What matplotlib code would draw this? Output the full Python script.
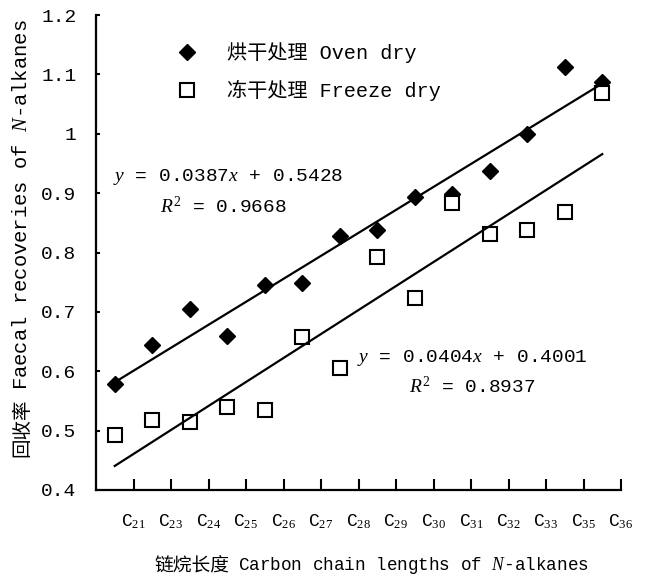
import matplotlib
matplotlib.use("Agg")
import matplotlib.pyplot as plt
import numpy as np

plt.rcParams['mathtext.fontset'] = 'custom'
plt.rcParams['mathtext.rm'] = 'Liberation Serif'
plt.rcParams['mathtext.it'] = 'Liberation Serif:italic'
plt.rcParams['font.family'] = ['Liberation Mono', 'Noto Sans CJK SC']

# carbon chain labels (one per category)
chains = ['21', '23', '24', '25', '26', '27', '28', '29', '30', '31', '32', '33', '35', '36']

# faecal recoveries
oven = [0.578, 0.645, 0.705, 0.660, 0.745, 0.748, 0.827, 0.838, 0.893, 0.898, 0.938, 1.000, 1.112, 1.087]
freeze = [0.492, 0.518, 0.514, 0.540, 0.535, 0.657, 0.605, 0.793, 0.723, 0.884, 0.831, 0.838, 0.868, 1.068]

# fitted trend lines (slope, intercept)
oven_fit = (0.0387, 0.5428)
freeze_fit = (0.0404, 0.4001)

x = np.arange(1, len(chains) + 1)

fig = plt.figure(figsize=(6.5, 5.84), dpi=100)
ax = fig.add_axes([96 / 650, 94 / 584, 525 / 650, 475 / 584])

d, = ax.plot(x, oven, linestyle='none', marker='D', markersize=8, color='black')
s, = ax.plot(x, freeze, linestyle='none', marker='s', markersize=10,
             markerfacecolor='white', markeredgecolor='black', markeredgewidth=1.5)

for slope, icpt in (oven_fit, freeze_fit):
    ax.plot(x[[0, -1]], slope * x[[0, -1]] + icpt, color='black', lw=1.6)

ax.set_xlim(0.5, len(chains) + 0.5)
ax.set_ylim(0.4, 1.2)

ax.spines['top'].set_visible(False)
ax.spines['right'].set_visible(False)
ax.spines['left'].set_linewidth(1.6)
ax.spines['bottom'].set_linewidth(1.6)

yt = np.round(np.arange(0.4, 1.21, 0.1), 1)
ax.set_yticks(yt)
ax.set_yticklabels(['%g' % v for v in yt], fontsize=14)
ax.tick_params(axis='y', direction='in', length=3, width=1.5, pad=14)

ax.set_xticks(x + 0.5)
ax.set_xticklabels(['C$_{%s}$' % c for c in chains], fontsize=13)
ax.tick_params(axis='x', direction='in', length=8, width=1.5, pad=16)

# legend
ax.legend([d, s], ['烘干处理 Oven dry', '冻干处理 Freeze dry'],
          loc='upper left', bbox_to_anchor=(0.1, 0.98), frameon=False,
          fontsize=14.5, handletextpad=1.0, labelspacing=0.8)

# equations
eq = dict(transform=ax.transAxes, ha='center', va='center', fontsize=14)
ax.text(0.251, 0.659, '$y$ = 0.0387$x$ + 0.5428', **eq)
ax.text(0.242, 0.596, '$R^2$ = 0.9668', **eq)
ax.text(0.716, 0.278, '$y$ = 0.0404$x$ + 0.4001', **eq)
ax.text(0.717, 0.217, '$R^2$ = 0.8937', **eq)

# y label, Chinese part and English part
fig.text(22 / 650, 1 - 428 / 584, '回收率', rotation=90, ha='center', va='center',
         fontsize=14, family='Noto Sans CJK SC')
fig.text(22 / 650, 1 - 205 / 584, 'Faecal recoveries of $N$-alkanes', rotation=90,
         ha='center', va='center', fontsize=14.8)

# x label
fig.text(230 / 650, 1 - 566 / 584, '链烷长度', ha='right', va='center',
         fontsize=13.5, family='Noto Sans CJK SC')
fig.text(238 / 650, 1 - 566 / 584, 'Carbon chain lengths of $N$-alkanes',
         ha='left', va='center', fontsize=12.7)

fig.savefig('out.png', dpi=100)
